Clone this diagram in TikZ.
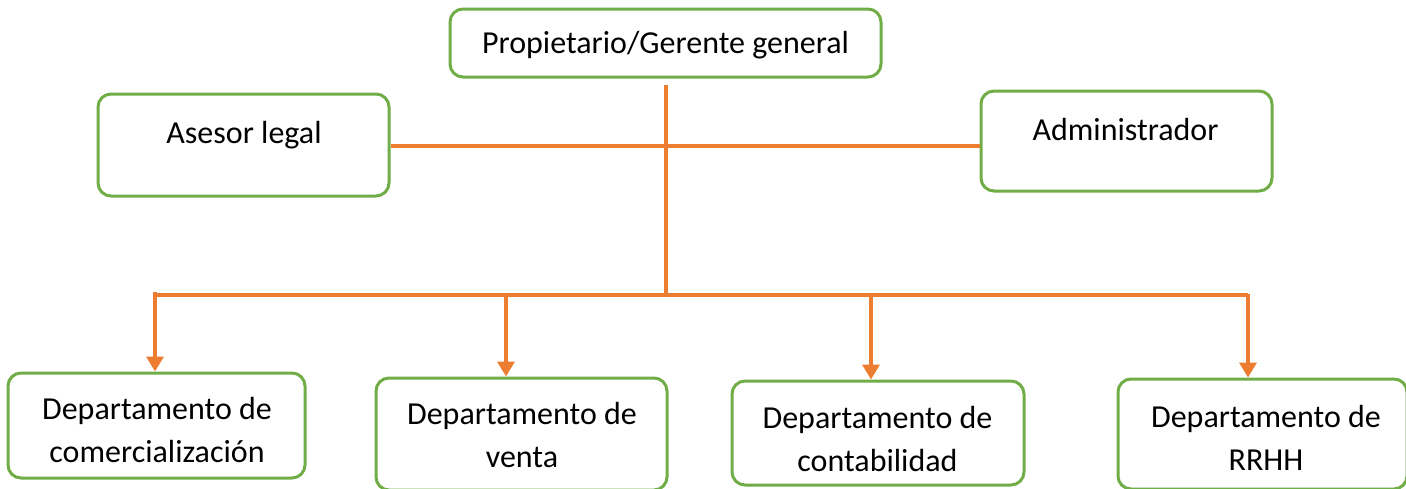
\documentclass[tikz,border=0pt]{standalone}
\usepackage{fontspec}
\setmainfont{Carlito}
\usetikzlibrary{arrows.meta,calc}
\definecolor{boxgreen}{HTML}{70AD47}
\definecolor{lineorange}{HTML}{ED7D31}
\begin{document}
\begin{tikzpicture}[x=1pt,y=-1pt,
  box/.style={draw=boxgreen,line width=3pt,rounded corners=13pt,fill=white,inner sep=0pt},
  txt/.style={anchor=base,align=center,inner sep=0pt,font=\fontsize{32}{43}\selectfont},
  conn/.style={draw=lineorange,line width=3.6pt},
  arr/.style={conn,-{Triangle[width=17pt,length=15pt]}}]
\useasboundingbox (0,0) rectangle (1406,488);
% boxes
\node[box,minimum width=431pt,minimum height=68pt] (top) at (665.5,43) {};
\node[box,minimum width=291pt,minimum height=102pt] (ase) at (243.5,145) {};
\node[box,minimum width=291pt,minimum height=100pt] (adm) at (1126.5,141) {};
\node[box,minimum width=297pt,minimum height=105pt] (com) at (156.5,425.5) {};
\node[box,minimum width=291pt,minimum height=112pt] (ven) at (521.5,434) {};
\node[box,minimum width=292pt,minimum height=104pt] (con) at (878,433) {};
\node[box,minimum width=289pt,minimum height=110pt] (rrh) at (1262.5,434) {};
% texts (multi-line nodes: base = baseline of last line)
\node[txt] (ttop) at (665.5,53) {Propietario/Gerente general};
\node[txt] (tase) at (244,143) {Asesor legal};
\node[txt] (tadm) at (1125.5,140) {Administrador};
\node[txt] (tcom) at (157,462) {Departamento de\\comercialización};
\node[txt] (tven) at (522,467) {Departamento de\\venta};
\node[txt] (tcon) at (877.5,471) {Departamento de\\contabilidad};
\node[txt] (trrh) at (1266,470) {Departamento de\\RRHH};
% connector coordinates
\coordinate (vtop) at (666,85);
\coordinate (j) at (666,295);
\coordinate (a1) at (155,295);
\coordinate (a2) at (506,295);
\coordinate (a3) at (871,295);
\coordinate (a4) at (1248,295);
% connectors
\draw[conn] (vtop) -- (j);
\draw[conn] (ase.east |- 0,146) -- (adm.west |- 0,146);
\draw[conn] (a1) -- (a4);
\draw[arr] (a1) ++(0,-3) -- (a1 |- com.north);
\draw[arr] (a2) -- (a2 |- ven.north);
\draw[arr] (a3) -- (a3 |- con.north);
\draw[arr] (a4) ++(0,-1.5) -- (a4 |- rrh.north);
\end{tikzpicture}
\end{document}
